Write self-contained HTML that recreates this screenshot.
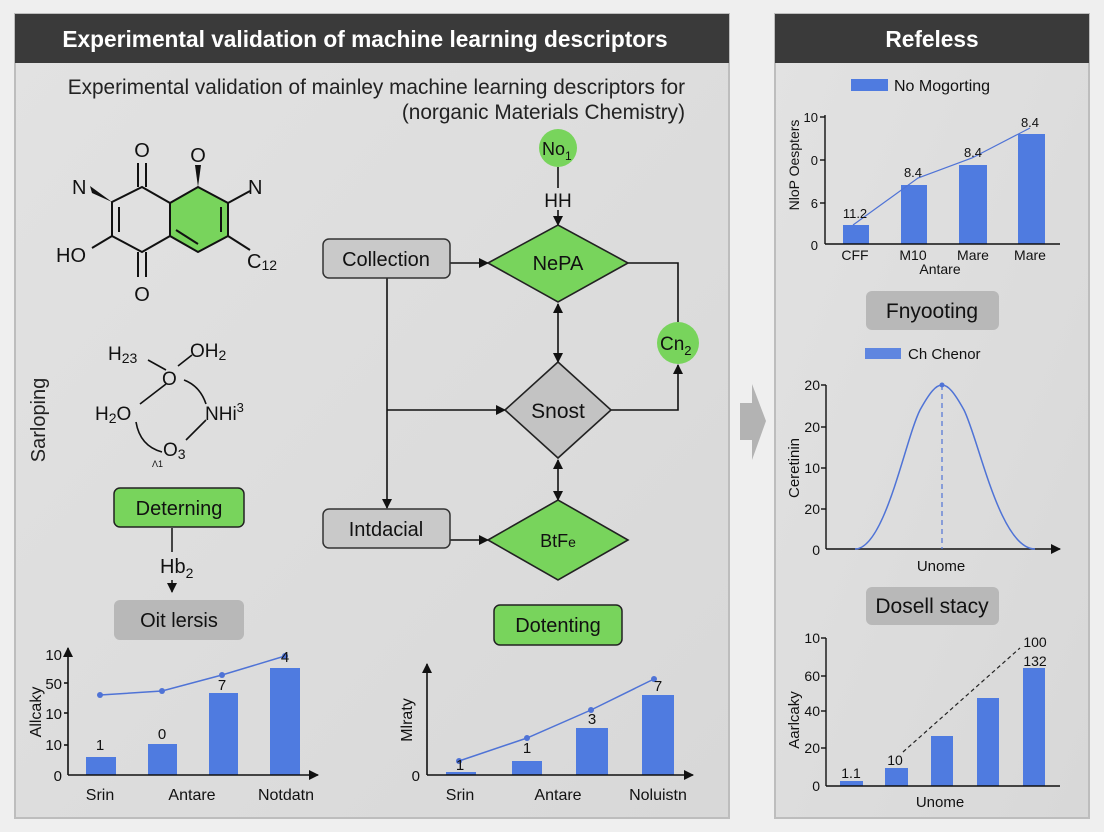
<!DOCTYPE html>
<html><head><meta charset="utf-8"><style>
html,body{margin:0;padding:0;background:#efefef;}
svg{display:block;font-family:"Liberation Sans",sans-serif;}
</style></head><body>
<svg width="1104" height="832" viewBox="0 0 1104 832" xmlns="http://www.w3.org/2000/svg">
<defs>
<linearGradient id="pg" x1="0" y1="0" x2="1" y2="1"><stop offset="0" stop-color="#e2e2e2"/><stop offset="1" stop-color="#d8d8d8"/></linearGradient>
<marker id="ar" markerWidth="10" markerHeight="10" refX="9" refY="5" orient="auto" markerUnits="userSpaceOnUse"><path d="M0,0 L10,5 L0,10 z" fill="#111"/></marker>
</defs>
<rect width="1104" height="832" fill="#efefef"/>
<!-- Left panel -->
<rect x="15" y="14" width="714" height="804" fill="url(#pg)" stroke="#bdbdbd" stroke-width="2"/>
<rect x="15" y="14" width="714" height="49" fill="#3a3a3a"/>
<text x="365" y="47" text-anchor="middle" fill="#fff" font-size="22.7" font-weight="bold">Experimental validation of machine learning descriptors</text>
<text x="685" y="94" text-anchor="end" font-size="20.8" fill="#222">Experimental validation of mainley machine learning descriptors for</text>
<text x="685" y="119" text-anchor="end" font-size="20.8" fill="#222">(norganic Materials Chemistry)</text>
<!-- Right panel -->
<rect x="775" y="14" width="314" height="804" fill="url(#pg)" stroke="#bdbdbd" stroke-width="2"/>
<rect x="775" y="14" width="314" height="49" fill="#3a3a3a"/>
<text x="932" y="47" text-anchor="middle" fill="#fff" font-size="22.7" font-weight="bold">Refeless</text>
<!-- gray arrow -->
<path d="M740,403 L752,403 L752,384 L766,421 L752,460 L752,440 L740,440 z" fill="#b3b3b3"/>

<!-- Molecule 1 -->
<g stroke="#111" stroke-width="2" fill="none">
<polygon points="198,187 228,203 228,236 198,252 170,236 170,203" fill="#78d45c"/>
<polygon points="142,187 170,203 170,236 142,252 112,236 112,202"/>
<line x1="119" y1="207" x2="119" y2="232"/><line x1="176" y1="230" x2="198" y2="244"/><line x1="221" y1="207" x2="221" y2="232"/>
<line x1="138" y1="163" x2="138" y2="187"/><line x1="146" y1="163" x2="146" y2="187"/>
<line x1="138" y1="252" x2="138" y2="277"/><line x1="146" y1="252" x2="146" y2="277"/>
<line x1="228" y1="203" x2="250" y2="191"/>
<line x1="112" y1="236" x2="92" y2="248"/>
<line x1="228" y1="236" x2="250" y2="250"/>
</g>
<polygon points="195,165 201,165 198,187" fill="#111"/>
<polygon points="90,186 92,193 112,202" fill="#111"/>
<g font-size="20" fill="#111">
<text x="142" y="157" text-anchor="middle">O</text>
<text x="142" y="301" text-anchor="middle">O</text>
<text x="198" y="162" text-anchor="middle">O</text>
<text x="72" y="194">N</text>
<text x="248" y="194">N</text>
<text x="56" y="262">HO</text>
<text x="247" y="268">C<tspan font-size="14" dy="2">12</tspan></text>
</g>
<!-- Molecule 2 -->
<g stroke="#111" stroke-width="1.6" fill="none">
<line x1="148" y1="360" x2="166" y2="370"/><line x1="178" y1="366" x2="192" y2="355"/>
<line x1="166" y1="384" x2="140" y2="404"/><path d="M184,380 Q200,386 206,404"/>
<line x1="206" y1="420" x2="186" y2="440"/><path d="M136,422 Q140,446 162,452"/>
</g>
<g font-size="19" fill="#111">
<text x="108" y="360">H<tspan font-size="14" dy="3">23</tspan></text>
<text x="190" y="357">OH<tspan font-size="14" dy="3">2</tspan></text>
<text x="162" y="385">O</text>
<text x="95" y="420">H<tspan font-size="14" dy="3">2</tspan><tspan dy="-3">O</tspan></text>
<text x="205" y="420">NHi<tspan font-size="13" dy="-8">3</tspan></text>
<text x="163" y="456">O<tspan font-size="14" dy="3">3</tspan></text>
<text x="152" y="467" font-size="9">Λ1</text>
</g>
<text transform="translate(45,420) rotate(-90)" text-anchor="middle" font-size="20" fill="#222">Sarloping</text>

<!-- Deterning / Oit lersis -->
<rect x="114" y="488" width="130" height="39" rx="6" fill="#78d45c" stroke="#222" stroke-width="1.5"/>
<text x="179" y="515" text-anchor="middle" font-size="20" fill="#111">Deterning</text>
<line x1="172" y1="528" x2="172" y2="552" stroke="#111" stroke-width="1.5"/>
<text x="160" y="573" font-size="20" fill="#111">Hb<tspan font-size="14" dy="5">2</tspan></text>
<line x1="172" y1="580" x2="172" y2="592" stroke="#111" stroke-width="1.5" marker-end="url(#ar)"/>
<rect x="114" y="600" width="130" height="40" rx="6" fill="#b8b8b8"/>
<text x="179" y="627" text-anchor="middle" font-size="20" fill="#111">Oit lersis</text>

<!-- Flowchart -->
<g stroke="#111" stroke-width="1.6" fill="none">
<line x1="450" y1="263" x2="488" y2="263" marker-end="url(#ar)"/>
<line x1="558" y1="167" x2="558" y2="188"/>
<line x1="558" y1="210" x2="558" y2="225" marker-end="url(#ar)"/>
<polyline points="628,263 678,263 678,322"/>
<polyline points="611,410 678,410 678,365" marker-end="url(#ar)"/>
<line x1="558" y1="332" x2="558" y2="304" marker-end="url(#ar)"/>
<line x1="558" y1="332" x2="558" y2="362" marker-end="url(#ar)"/>
<line x1="558" y1="479" x2="558" y2="460" marker-end="url(#ar)"/>
<line x1="558" y1="479" x2="558" y2="500" marker-end="url(#ar)"/>
<line x1="387" y1="278" x2="387" y2="508" marker-end="url(#ar)"/>
<line x1="387" y1="410" x2="505" y2="410" marker-end="url(#ar)"/>
<line x1="450" y1="540" x2="488" y2="540" marker-end="url(#ar)"/>
</g>
<rect x="323" y="239" width="127" height="39" rx="6" fill="#c9c9c9" stroke="#333" stroke-width="1.5"/>
<text x="386" y="266" text-anchor="middle" font-size="20" fill="#111">Collection</text>
<rect x="323" y="509" width="127" height="39" rx="6" fill="#c9c9c9" stroke="#333" stroke-width="1.5"/>
<text x="386" y="536" text-anchor="middle" font-size="20" fill="#111">Intdacial</text>
<polygon points="488,263 558,225 628,263 558,302" fill="#78d45c" stroke="#222" stroke-width="1.6"/>
<text x="558" y="270" text-anchor="middle" font-size="20" fill="#111">NePA</text>
<polygon points="505,410 558,362 611,410 558,458" fill="#c3c3c3" stroke="#222" stroke-width="1.6"/>
<text x="558" y="418" text-anchor="middle" font-size="21" fill="#111">Snost</text>
<polygon points="488,540 558,500 628,540 558,580" fill="#78d45c" stroke="#222" stroke-width="1.6"/>
<text x="558" y="547" text-anchor="middle" font-size="18" fill="#111">BtF<tspan font-size="14">e</tspan></text>
<circle cx="558" cy="148" r="19" fill="#78d45c"/>
<text x="542" y="155" font-size="18" fill="#111">No<tspan font-size="12" dy="5">1</tspan></text>
<text x="558" y="207" text-anchor="middle" font-size="19" fill="#111">HH</text>
<circle cx="678" cy="343" r="21" fill="#78d45c"/>
<text x="660" y="350" font-size="19" fill="#111">Cn<tspan font-size="13" dy="5">2</tspan></text>
<rect x="494" y="605" width="128" height="40" rx="6" fill="#78d45c" stroke="#222" stroke-width="1.5"/>
<text x="558" y="632" text-anchor="middle" font-size="20" fill="#111">Dotenting</text>

<!-- Bottom-left chart -->
<g fill="#4f7be0">
<rect x="86" y="757" width="30" height="18"/><rect x="148" y="744" width="29" height="31"/>
<rect x="209" y="693" width="29" height="82"/><rect x="270" y="668" width="30" height="107"/>
</g>
<g stroke="#111" stroke-width="1.6">
<line x1="68" y1="775" x2="68" y2="648" marker-end="url(#ar)"/>
<line x1="68" y1="775" x2="318" y2="775" marker-end="url(#ar)"/>
<line x1="64" y1="683" x2="68" y2="683"/><line x1="64" y1="713" x2="68" y2="713"/><line x1="64" y1="745" x2="68" y2="745"/>
</g>
<polyline points="100,695 162,691 222,675 285,656" fill="none" stroke="#4f73d6" stroke-width="1.5"/>
<g fill="#4f73d6"><circle cx="100" cy="695" r="3"/><circle cx="162" cy="691" r="3"/><circle cx="222" cy="675" r="3"/><circle cx="285" cy="656" r="3"/></g>
<g font-size="15" fill="#111" text-anchor="end">
<text x="62" y="660">10</text><text x="62" y="689">50</text><text x="62" y="719">10</text><text x="62" y="750">10</text><text x="62" y="781">0</text>
</g>
<g font-size="15" fill="#111" text-anchor="middle">
<text x="100" y="750">1</text><text x="162" y="739">0</text><text x="222" y="690">7</text><text x="285" y="662">4</text>
</g>
<g font-size="16" fill="#111" text-anchor="middle">
<text x="100" y="800">Srin</text><text x="192" y="800">Antare</text><text x="286" y="800">Notdatn</text>
</g>
<text transform="translate(41,712) rotate(-90)" text-anchor="middle" font-size="16" fill="#111">Allcaky</text>

<!-- Bottom-middle chart -->
<g fill="#4f7be0">
<rect x="446" y="772" width="30" height="3"/><rect x="512" y="761" width="30" height="14"/>
<rect x="576" y="728" width="32" height="47"/><rect x="642" y="695" width="32" height="80"/>
</g>
<g stroke="#111" stroke-width="1.6">
<line x1="427" y1="775" x2="427" y2="664" marker-end="url(#ar)"/>
<line x1="427" y1="775" x2="693" y2="775" marker-end="url(#ar)"/>
</g>
<polyline points="459,761 527,738 591,710 654,679" fill="none" stroke="#4f73d6" stroke-width="1.5"/>
<g fill="#4f73d6"><circle cx="459" cy="761" r="3"/><circle cx="527" cy="738" r="3"/><circle cx="591" cy="710" r="3"/><circle cx="654" cy="679" r="3"/></g>
<text x="420" y="781" text-anchor="end" font-size="15" fill="#111">0</text>
<g font-size="15" fill="#111" text-anchor="middle">
<text x="460" y="770">1</text><text x="527" y="753">1</text><text x="592" y="724">3</text><text x="658" y="691">7</text>
</g>
<g font-size="16" fill="#111" text-anchor="middle">
<text x="460" y="800">Srin</text><text x="558" y="800">Antare</text><text x="658" y="800">Noluistn</text>
</g>
<text transform="translate(412,720) rotate(-90)" text-anchor="middle" font-size="16" fill="#111">Mlraty</text>

<!-- Right chart 1 -->
<rect x="851" y="79" width="37" height="12" fill="#4f7be0"/>
<text x="894" y="91" font-size="16" fill="#111">No Mogorting</text>
<g fill="#4f7be0">
<rect x="843" y="225" width="26" height="19"/><rect x="901" y="185" width="26" height="59"/>
<rect x="959" y="165" width="28" height="79"/><rect x="1018" y="134" width="27" height="110"/>
</g>
<g stroke="#111" stroke-width="1.4">
<line x1="825" y1="115" x2="825" y2="244"/><line x1="825" y1="244" x2="1060" y2="244"/>
<line x1="820" y1="117" x2="825" y2="117"/><line x1="820" y1="160" x2="825" y2="160"/><line x1="820" y1="203" x2="825" y2="203"/>
</g>
<polyline points="853,225 918,178 972,158 1030,128" fill="none" stroke="#4f73d6" stroke-width="1.2"/>
<g font-size="13" fill="#111" text-anchor="end">
<text x="818" y="122">10</text><text x="818" y="165">0</text><text x="818" y="208">6</text><text x="818" y="250">0</text>
</g>
<g font-size="13" fill="#111" text-anchor="middle">
<text x="855" y="218">11.2</text><text x="913" y="177">8.4</text><text x="973" y="157">8.4</text><text x="1030" y="127">8.4</text>
<text x="855" y="260" font-size="14">CFF</text><text x="913" y="260" font-size="14">M10</text><text x="973" y="260" font-size="14">Mare</text><text x="1030" y="260" font-size="14">Mare</text>
<text x="940" y="274" font-size="14">Antare</text>
</g>
<text transform="translate(799,165) rotate(-90)" text-anchor="middle" font-size="14" fill="#111">NloP Oespters</text>

<!-- Fnyooting -->
<rect x="866" y="291" width="133" height="39" rx="6" fill="#b8b8b8"/>
<text x="932" y="318" text-anchor="middle" font-size="21" fill="#111">Fnyooting</text>
<rect x="865" y="348" width="36" height="11" fill="#5f86e0"/>
<text x="908" y="359" font-size="15" fill="#111">Ch Chenor</text>
<g stroke="#111" stroke-width="1.4">
<line x1="826" y1="385" x2="826" y2="549"/><line x1="826" y1="549" x2="1060" y2="549" marker-end="url(#ar)"/>
<line x1="821" y1="385" x2="826" y2="385"/><line x1="821" y1="427" x2="826" y2="427"/><line x1="821" y1="468" x2="826" y2="468"/><line x1="821" y1="509" x2="826" y2="509"/>
</g>
<path d="M855,549 C885,549 905,440 920,410 C930,392 936,385 942,385 C948,385 954,392 964,410 C979,440 1000,549 1035,549" fill="none" stroke="#4f73d6" stroke-width="1.5"/>
<line x1="942" y1="385" x2="942" y2="549" stroke="#4f73d6" stroke-width="1.2" stroke-dasharray="5,4"/>
<circle cx="942" cy="385" r="2.5" fill="#4f73d6"/>
<g font-size="14" fill="#111" text-anchor="end">
<text x="820" y="390">20</text><text x="820" y="432">20</text><text x="820" y="473">10</text><text x="820" y="514">20</text><text x="820" y="555">0</text>
</g>
<text x="941" y="571" text-anchor="middle" font-size="15" fill="#111">Unome</text>
<text transform="translate(799,468) rotate(-90)" text-anchor="middle" font-size="15" fill="#111">Ceretinin</text>

<!-- Dosell stacy -->
<rect x="866" y="587" width="133" height="38" rx="6" fill="#b8b8b8"/>
<text x="932" y="613" text-anchor="middle" font-size="21" fill="#111">Dosell stacy</text>
<g fill="#4f7be0">
<rect x="840" y="781" width="23" height="5"/><rect x="885" y="768" width="23" height="18"/>
<rect x="931" y="736" width="22" height="50"/><rect x="977" y="698" width="22" height="88"/>
<rect x="1023" y="668" width="22" height="118"/>
</g>
<g stroke="#111" stroke-width="1.4">
<line x1="826" y1="638" x2="826" y2="786"/><line x1="826" y1="786" x2="1060" y2="786"/>
<line x1="821" y1="638" x2="826" y2="638"/><line x1="821" y1="676" x2="826" y2="676"/><line x1="821" y1="711" x2="826" y2="711"/><line x1="821" y1="748" x2="826" y2="748"/>
</g>
<line x1="903" y1="752" x2="1020" y2="648" stroke="#222" stroke-width="1.2" stroke-dasharray="4,3"/>
<g font-size="14" fill="#111" text-anchor="end">
<text x="820" y="643">10</text><text x="820" y="681">60</text><text x="820" y="716">40</text><text x="820" y="753">20</text><text x="820" y="791">0</text>
</g>
<g font-size="14" fill="#111" text-anchor="middle">
<text x="851" y="778">1.1</text><text x="895" y="765">10</text><text x="1035" y="647">100</text><text x="1035" y="666">132</text>
</g>
<text x="940" y="807" text-anchor="middle" font-size="15" fill="#111">Unome</text>
<text transform="translate(799,720) rotate(-90)" text-anchor="middle" font-size="15" fill="#111">Aarlcaky</text>
</svg>
</body></html>
